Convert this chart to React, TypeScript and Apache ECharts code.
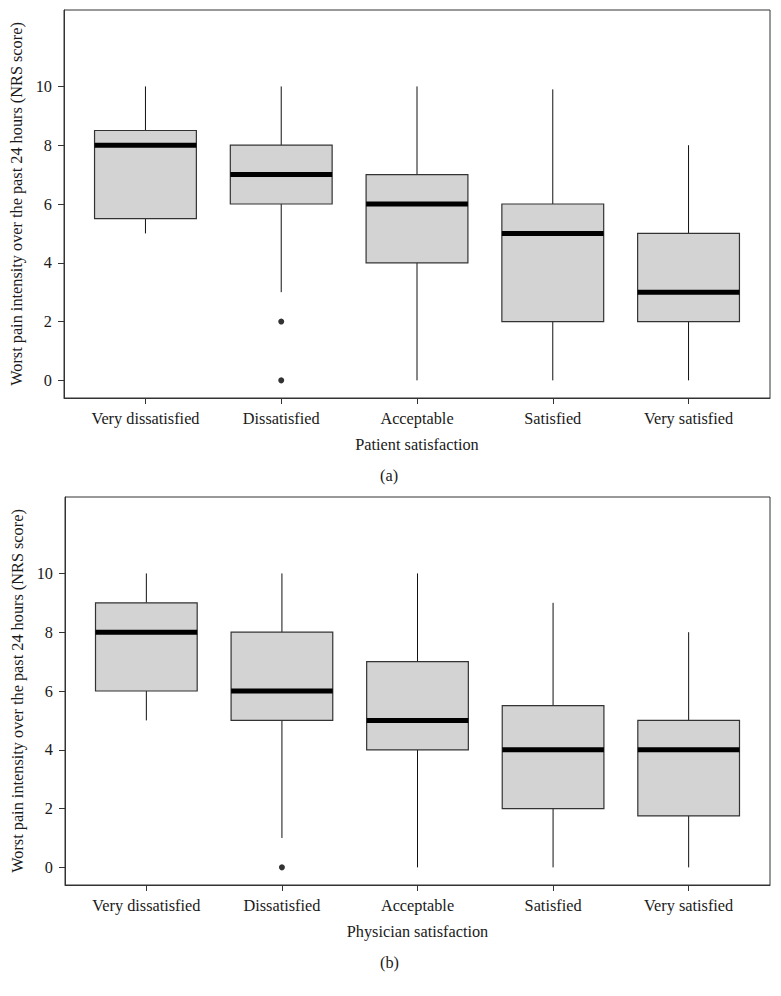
import React, { useEffect, useRef } from "react";
import * as echarts from "echarts";

const categories = ["Very dissatisfied", "Dissatisfied", "Acceptable", "Satisfied", "Very satisfied"];
const yTicks = [0, 2, 4, 6, 8, 10];

// Panel (a): Patient satisfaction
const patientLow = [5, 3, 0, 0, 0];
const patientQ1 = [5.5, 6, 4, 2, 2];
const patientMedian = [8, 7, 6, 5, 3];
const patientQ3 = [8.5, 8, 7, 6, 5];
const patientHigh = [10, 10, 10, 9.9, 8];
const patientOutlierCat = [2, 2];
const patientOutlierVal = [2, 0];

// Panel (b): Physician satisfaction
const physicianLow = [5, 1, 0, 0, 0];
const physicianQ1 = [6, 5, 4, 2, 1.75];
const physicianMedian = [8, 6, 5, 4, 4];
const physicianQ3 = [9, 8, 7, 5.5, 5];
const physicianHigh = [10, 10, 10, 9, 8];
const physicianOutlierCat = [2];
const physicianOutlierVal = [0];

const FONT = "Liberation Serif";
const FS = 16.3;
const TEXT = "#1a1a1a";
const LINE = "#333";
const BOX_HALF = 0.375;

function boxData(lo: number[], q1: number[], med: number[], q3: number[], hi: number[]) {
  return categories.map((_, i) => [i + 1, lo[i], q1[i], med[i], q3[i], hi[i]]);
}

function renderBox(params: any, api: any) {
  const x = api.value(0);
  const lo = api.value(1);
  const q1 = api.value(2);
  const med = api.value(3);
  const q3 = api.value(4);
  const hi = api.value(5);
  const tl = api.coord([x - BOX_HALF, q3]);
  const br = api.coord([x + BOX_HALF, q1]);
  const cHi = api.coord([x, hi]);
  const cQ3 = api.coord([x, q3]);
  const cQ1 = api.coord([x, q1]);
  const cLo = api.coord([x, lo]);
  const mL = api.coord([x - BOX_HALF, med]);
  const mR = api.coord([x + BOX_HALF, med]);
  return {
    type: "group",
    children: [
      { type: "line", shape: { x1: cHi[0], y1: cHi[1], x2: cQ3[0], y2: cQ3[1] }, style: { stroke: "#111", lineWidth: 1 } },
      { type: "line", shape: { x1: cQ1[0], y1: cQ1[1], x2: cLo[0], y2: cLo[1] }, style: { stroke: "#111", lineWidth: 1 } },
      {
        type: "rect",
        shape: { x: tl[0], y: tl[1], width: br[0] - tl[0], height: br[1] - tl[1] },
        style: { fill: "#d3d3d3", stroke: LINE, lineWidth: 1.2 },
      },
      { type: "line", shape: { x1: mL[0], y1: mL[1], x2: mR[0], y2: mR[1] }, style: { stroke: "#000", lineWidth: 5 } },
    ],
  };
}

function xAxisFor(gridIndex: number, name: string) {
  return {
    type: "value",
    gridIndex,
    min: 0.4,
    max: 5.6,
    name,
    nameLocation: "middle",
    nameGap: 38,
    nameTextStyle: { fontFamily: FONT, fontSize: FS, color: TEXT },
    axisLine: { show: true, onZero: false, lineStyle: { color: LINE, width: 1 } },
    axisTick: { show: true, length: 6, inside: false, customValues: [1, 2, 3, 4, 5], lineStyle: { color: LINE } },
    axisLabel: {
      show: true,
      customValues: [1, 2, 3, 4, 5],
      formatter: (v: number) => categories[Math.round(v) - 1] ?? "",
      fontFamily: FONT,
      fontSize: FS,
      color: TEXT,
      margin: 12,
    },
    splitLine: { show: false },
  };
}

function yAxisFor(gridIndex: number) {
  return {
    type: "value",
    gridIndex,
    min: -0.6,
    max: 12.6,
    name: "Worst pain intensity over the past 24 hours (NRS score)",
    nameLocation: "middle",
    nameGap: 37,
    nameTextStyle: { fontFamily: FONT, fontSize: FS, color: TEXT },
    axisLine: { show: true, onZero: false, lineStyle: { color: LINE, width: 1 } },
    axisTick: { show: true, length: 6, inside: false, customValues: yTicks, lineStyle: { color: LINE } },
    axisLabel: {
      show: true,
      customValues: yTicks,
      fontFamily: FONT,
      fontSize: FS,
      color: TEXT,
      margin: 12,
    },
    splitLine: { show: false },
  };
}

export default function App() {
  const ref = useRef<HTMLDivElement>(null);
  useEffect(() => {
    if (!ref.current) return;
    const chart = echarts.init(ref.current, null, { renderer: "svg" });
    const option: any = {
      animation: false,
      backgroundColor: "#fff",
      grid: [
        { left: 64, top: 10, width: 706, height: 388, show: true, borderColor: LINE, borderWidth: 1, backgroundColor: "transparent" },
        { left: 65, top: 497, width: 705, height: 388, show: true, borderColor: LINE, borderWidth: 1, backgroundColor: "transparent" },
      ],
      xAxis: [xAxisFor(0, "Patient satisfaction"), xAxisFor(1, "Physician satisfaction")],
      yAxis: [yAxisFor(0), yAxisFor(1)],
      graphic: [
        { type: "text", left: 380, top: 467, style: { text: "(a)", font: `${FS}px "${FONT}"`, fill: TEXT } },
        { type: "text", left: 380, top: 954, style: { text: "(b)", font: `${FS}px "${FONT}"`, fill: TEXT } },
      ],
      series: [
        {
          type: "custom",
          xAxisIndex: 0,
          yAxisIndex: 0,
          renderItem: renderBox,
          data: boxData(patientLow, patientQ1, patientMedian, patientQ3, patientHigh),
        },
        {
          type: "scatter",
          xAxisIndex: 0,
          yAxisIndex: 0,
          symbol: "circle",
          symbolSize: 6,
          itemStyle: { color: "#000" },
          data: patientOutlierCat.map((c, i) => [c, patientOutlierVal[i]]),
        },
        {
          type: "custom",
          xAxisIndex: 1,
          yAxisIndex: 1,
          renderItem: renderBox,
          data: boxData(physicianLow, physicianQ1, physicianMedian, physicianQ3, physicianHigh),
        },
        {
          type: "scatter",
          xAxisIndex: 1,
          yAxisIndex: 1,
          symbol: "circle",
          symbolSize: 6,
          itemStyle: { color: "#000" },
          data: physicianOutlierCat.map((c, i) => [c, physicianOutlierVal[i]]),
        },
      ],
    };
    chart.setOption(option);
    return () => chart.dispose();
  }, []);
  return <div ref={ref} style={{ position: "absolute", left: 0, top: 0, width: 781, height: 996 }} />;
}
